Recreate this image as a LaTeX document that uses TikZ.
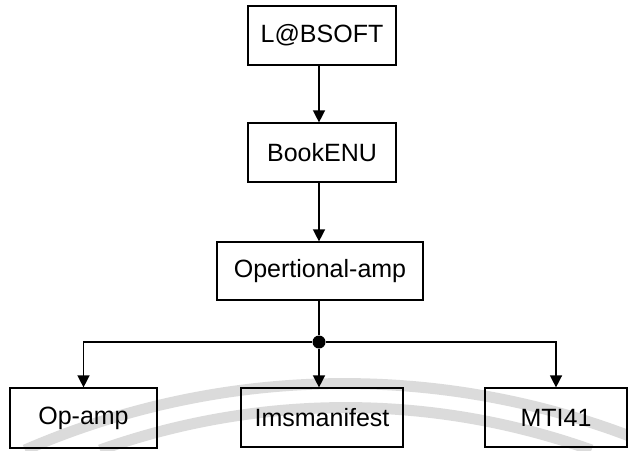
\documentclass[tikz,border=0pt]{standalone}
\usepackage{fontspec}
\setmainfont{Liberation Sans}
\usetikzlibrary{arrows.meta}
\begin{document}
\begin{tikzpicture}[x=1pt,y=-1pt,
  box/.style={draw, line width=1.2pt, inner sep=0pt, font=\fontsize{25}{29}\selectfont},
  arr/.style={line width=1.4pt, -{Triangle[width=12pt,length=12pt]}},
  link/.style={line width=1.4pt},
  wm/.style={draw=black!14, line width=11pt}]
\useasboundingbox (0,0) rectangle (628,450);
% faint watermark arcs
\begin{scope}
\clip (0,0) rectangle (628,450);
\draw[wm] (25,450) arc[start angle=113.5, end angle=66.5, radius=801pt];
\draw[wm] (100,450) arc[start angle=109.6, end angle=70.4, radius=732.6pt];
\end{scope}
% boxes
\node[box, minimum width=148pt, minimum height=59pt] (lab) at (322,35.5) {L@BSOFT};
\node[box, minimum width=148pt, minimum height=59pt] (book) at (322,152.5) {BookENU};
\node[box, minimum width=206pt, minimum height=58pt] (op) at (320,271) {Opertional-amp};
\node[box, minimum width=147pt, minimum height=60pt] (opamp) at (83.5,418) {Op-amp};
\node[box, minimum width=162pt, minimum height=59pt] (ims) at (322,417.5) {Imsmanifest};
\node[box, minimum width=142pt, minimum height=59pt] (mti) at (556,417.5) {MTI41};
\node[circle, fill, inner sep=0pt, minimum size=13pt] (dot) at (319,342) {};
% connectors
\draw[arr] (lab.south -| dot) -- (book.north -| dot);
\draw[arr] (book.south -| dot) -- (op.north -| dot);
\draw[link] (op.south -| dot) -- (dot);
\draw[arr] (dot) -- (ims.north -| dot);
\draw[arr] (dot) -| (opamp.north);
\draw[arr] (dot) -| (mti.north);
\end{tikzpicture}
\end{document}
